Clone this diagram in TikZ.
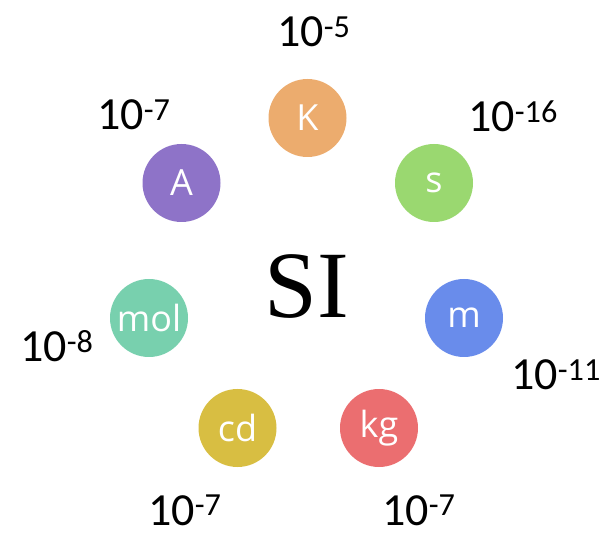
\documentclass[tikz,border=0pt]{standalone}
\usepackage{fontspec}
\usepackage{xcolor}
\usepackage{tikz}
\newfontfamily\labelfont{Carlito}
\newfontfamily\unitfont{Open Sans}
\newfontfamily\sifont{Liberation Serif}
\definecolor{unitK}{RGB}{236,172,110}
\definecolor{units}{RGB}{154,216,112}
\definecolor{unitm}{RGB}{105,140,235}
\definecolor{unitkg}{RGB}{235,110,112}
\definecolor{unitcd}{RGB}{216,190,66}
\definecolor{unitmol}{RGB}{120,208,174}
\definecolor{unitA}{RGB}{142,115,200}
\tikzset{
  % cerchi delle unita' di base
  unit/.style={circle,minimum size=78pt,inner sep=0pt,text=white,
    font=\unitfont\fontsize{36}{40}\selectfont},
  % incertezze relative
  uncert/.style={anchor=base west,inner sep=0pt,text depth=0pt,text=black,
    font=\labelfont\fontsize{46}{50}\selectfont}
}

\begin{document}
\begin{tikzpicture}[x=1pt,y=-1pt]
        \useasboundingbox (0,0) rectangle (605,534);
        \node[font=\sifont\fontsize{95}{100}\selectfont,anchor=base] (SI) at (307,318) {SI};
        \node[unit,fill=unitK] (K) at (307.5,118) {K};
        \node[unit,fill=units] (s) at (434,183) {s};
        \node[unit,fill=unitm] (m) at (464,318) {m};
        \node[unit,fill=unitkg] (kg) at (379,428) {kg};
        \node[unit,fill=unitcd] (cd) at (237.5,428) {cd};
        \node[unit,fill=unitmol] (mol) at (149,318) {mol};
        \node[unit,fill=unitA] (A) at (181.5,183) {A};
        \node[uncert] (uK) at (277,47) {10\textsuperscript{-5}};
        \node[uncert] (us) at (468,132) {10\textsuperscript{-16}};
        \node[uncert] (um) at (511,390) {10\textsuperscript{-11}};
        \node[uncert] (ukg) at (382,525) {10\textsuperscript{-7}};
        \node[uncert] (ucd) at (148,525) {10\textsuperscript{-7}};
        \node[uncert] (umol) at (20,362) {10\textsuperscript{-8}};
        \node[uncert] (uA) at (97,130) {10\textsuperscript{-7}};
      \end{tikzpicture}
\end{document}
